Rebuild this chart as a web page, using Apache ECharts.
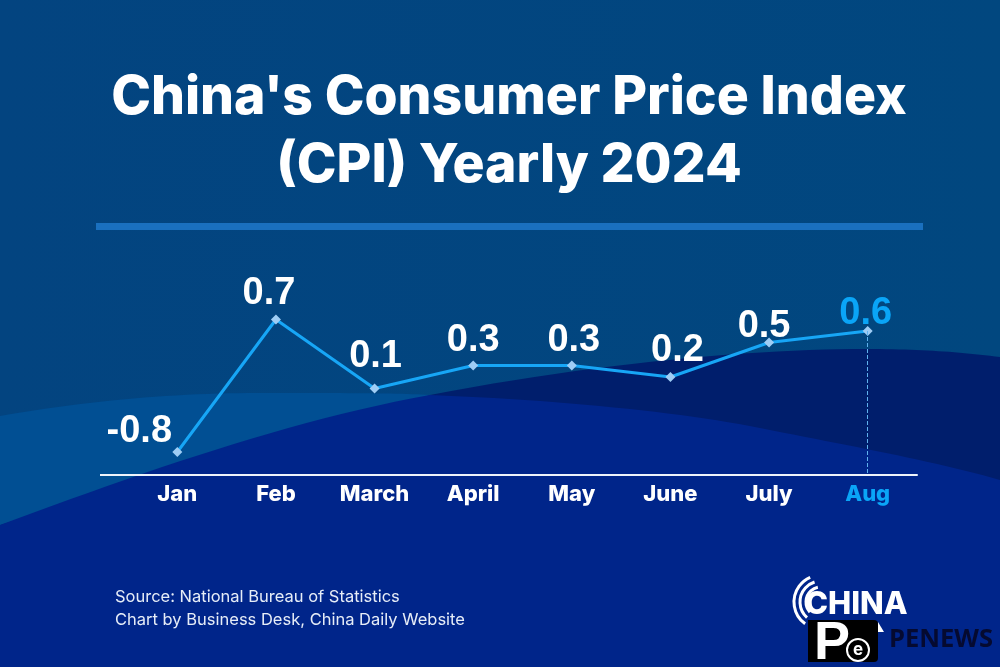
<!DOCTYPE html>
<html>
<head>
<meta charset="utf-8">
<style>
  html, body { margin: 0; padding: 0; background: #02467f; }
  #chart { width: 1000px; height: 667px; }
</style>
<script src="https://cdn.jsdelivr.net/npm/echarts@6/dist/echarts.min.js"></script>
</head>
<body>
<div id="chart"></div>
<script>
const months = ["Jan", "Feb", "March", "April", "May", "June", "July", "Aug"];
const cpiValues = [-0.8, 0.7, 0.1, 0.3, 0.3, 0.2, 0.5, 0.6];
const titleText = "China's Consumer Price Index\n(CPI) Yearly 2024";
const sourceLines = ["Source: National Bureau of Statistics", "Chart by Business Desk, China Daily Website"];

const FONT = "Inter, 'Open Sans', sans-serif";
const VALUE_FONT = "'Liberation Sans', Arial, sans-serif";
const HIGHLIGHT = "#0aa5f7";
const lastIndex = months.length - 1;

// nudges so the value labels sit where the poster has them
const labelOffsets = [[-38, 9], [-7, 3], [1, -3], [0, 4], [2, 4], [7, 3], [-5, 13], [-2, 12]];

const chart = echarts.init(document.getElementById("chart"), null, { renderer: "canvas" });

// graphic has no path type, so the background hills are sampled into polygons
const curve = (p0, p1, p2, p3) => {
  const pts = [];
  for (let i = 0; i <= 24; i++) {
    const t = i / 24;
    const u = 1 - t;
    pts.push([
      u * u * u * p0[0] + 3 * u * u * t * p1[0] + 3 * u * t * t * p2[0] + t * t * t * p3[0],
      u * u * u * p0[1] + 3 * u * u * t * p1[1] + 3 * u * t * t * p2[1] + t * t * t * p3[1]
    ]);
  }
  return pts;
};
const hillRise = curve([0, 525], [140, 473], [290, 420], [430, 395]);
const hillTop = curve([430, 395], [600, 362], [760, 349], [867, 349]).concat(curve([867, 349], [920, 349], [960, 352], [1000, 357]));
const bandTop = curve([0, 416], [90, 400], [180, 393], [257, 393]).concat(curve([257, 393], [340, 393], [400, 393], [430, 395]));
const bandFall = curve([430, 395], [560, 400], [680, 412], [760, 428]).concat(curve([760, 428], [850, 446], [930, 460], [1000, 480]));

const backdrop = [
  { type: "polygon", z: -30, shape: { points: [...hillRise, ...hillTop, [1000, 667], [0, 667]] }, style: { fill: "#001e6c" } },
  { type: "polygon", z: -29, shape: { points: [...bandTop, [0, 525]] }, style: { fill: "#014f93" } },
  { type: "polygon", z: -28, shape: { points: [...hillRise, ...bandFall, [1000, 667], [0, 667]] }, style: { fill: "#00258a" } }
];

const logo = [
  { type: "arc", z: 5, shape: { cx: 821, cy: 602, r: 27, startAngle: 2.2, endAngle: 4.3 }, style: { stroke: "#fff", fill: null, lineWidth: 3 } },
  { type: "arc", z: 5, shape: { cx: 821, cy: 602, r: 21, startAngle: 2.3, endAngle: 4.4 }, style: { stroke: "#fff", fill: null, lineWidth: 3 } },
  { type: "arc", z: 5, shape: { cx: 821, cy: 602, r: 15, startAngle: 2.4, endAngle: 4.5 }, style: { stroke: "#fff", fill: null, lineWidth: 3 } },
  { type: "text", z: 5, style: { x: 805, y: 589, text: "CHINA", fill: "#fff", font: "800 31px Inter" } },
  { type: "polygon", z: 5, shape: { points: [[878, 622], [884, 632], [878, 632]] }, style: { fill: "#fff" } },
  { type: "rect", z: 6, shape: { x: 808, y: 620, width: 70, height: 42, r: [0, 4, 4, 0] }, style: { fill: "#000" } },
  { type: "text", z: 7, style: { x: 814, y: 617, text: "P", fill: "#fff", font: "700 54px 'Liberation Sans'" } },
  { type: "circle", z: 7, shape: { cx: 858, cy: 650, r: 11 }, style: { stroke: "#fff", fill: null, lineWidth: 2 } },
  { type: "text", z: 7, style: { x: 858, y: 650, text: "e", fill: "#fff", align: "center", verticalAlign: "middle", font: "700 17px Inter" } },
  { type: "text", z: 7, style: { x: 889, y: 627, text: "PENEWS", fill: "#050a30", font: "700 25.5px 'Open Sans'" } }
];

chart.setOption({
  animation: false,
  backgroundColor: {
    type: "linear", x: 0, y: 0, x2: 1, y2: 0,
    colorStops: [{ offset: 0, color: "#034480" }, { offset: 1, color: "#01477f" }]
  },
  title: {
    text: titleText,
    left: 504,
    top: 59,
    textAlign: "center",
    textStyle: { color: "#fff", fontFamily: FONT, fontWeight: 800, fontSize: 53.5, lineHeight: 68 }
  },
  grid: { left: 128, width: 789, top: 285, height: 190 },
  xAxis: {
    type: "category",
    data: months,
    axisLine: { show: true, onZero: false, lineStyle: { color: "#eef3fb", width: 2 } },
    axisTick: { show: false },
    axisLabel: {
      margin: 8,
      fontFamily: FONT,
      fontWeight: 800,
      fontSize: 22,
      color: (value) => (value === months[lastIndex] ? HIGHLIGHT : "#fff")
    }
  },
  yAxis: {
    type: "value",
    min: -1,
    max: 1,
    show: false,
    splitLine: { show: false },
    // the poster squeezes the gap down to -0.8
    breaks: [{ start: -0.6, end: -0.2, gap: 0.052 }],
    breakArea: { show: false }
  },
  series: [
    {
      type: "line",
      data: cpiValues.map((value, i) => ({
        value,
        label: {
          offset: labelOffsets[i],
          color: i === lastIndex ? HIGHLIGHT : "#fff"
        }
      })),
      symbol: "diamond",
      symbolSize: 10,
      showSymbol: true,
      itemStyle: { color: "#9fcdf5" },
      lineStyle: { color: "#17a6f6", width: 3 },
      label: {
        show: true,
        position: "top",
        fontFamily: VALUE_FONT,
        fontWeight: 700,
        fontSize: 38
      },
      markLine: {
        silent: true,
        symbol: "none",
        label: { show: false },
        lineStyle: { color: "#5fb2ee", type: "dashed", width: 1 },
        data: [[
          { xAxis: months[lastIndex], yAxis: cpiValues[lastIndex] },
          { xAxis: months[lastIndex], yAxis: -1 }
        ]]
      }
    }
  ],
  graphic: [
    ...backdrop,
    // rule under the title
    { type: "rect", z: -10, shape: { x: 96, y: 223, width: 827, height: 7 }, style: { fill: "#1a70bf" } },
    // baseline runs a little past the first band
    { type: "line", z: 1, shape: { x1: 100, y1: 475, x2: 129, y2: 475 }, style: { stroke: "#eef3fb", lineWidth: 2 } },
    { type: "text", z: 5, style: { x: 115, y: 589, text: sourceLines[0], fill: "#e6edf7", font: "400 16.5px Inter" } },
    { type: "text", z: 5, style: { x: 115, y: 612, text: sourceLines[1], fill: "#e6edf7", font: "400 16.5px Inter" } },
    ...logo
  ]
});
</script>
</body>
</html>
